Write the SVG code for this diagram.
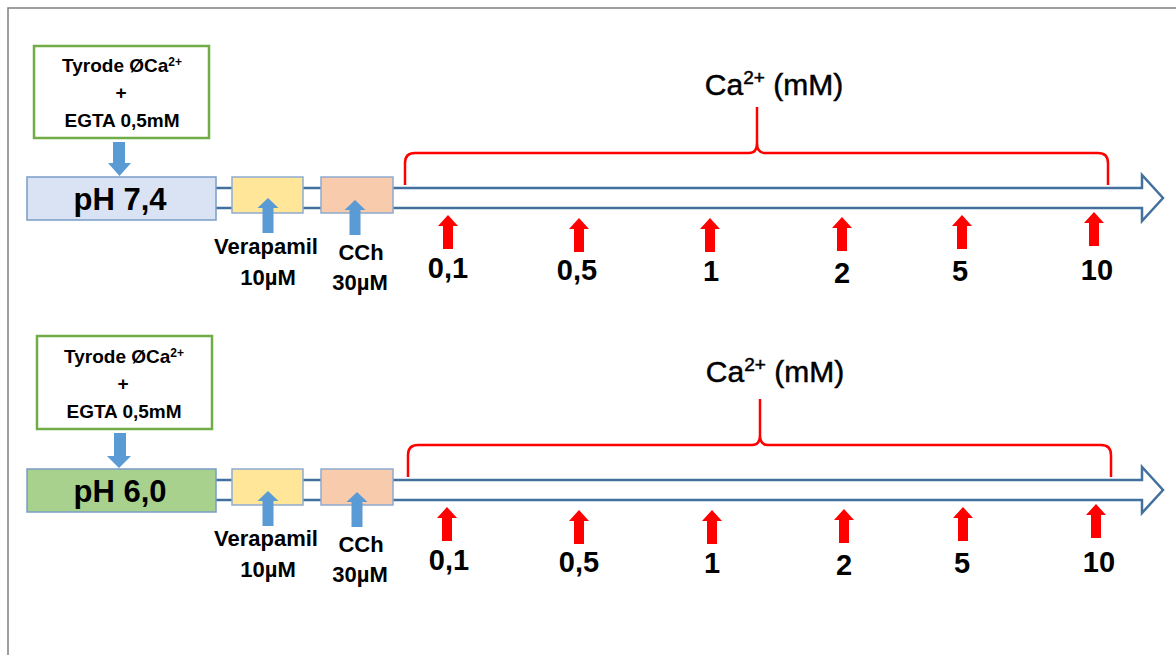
<svg xmlns="http://www.w3.org/2000/svg" width="1176" height="655" viewBox="0 0 1176 655">
  <style>
    .frame { fill: none; stroke: #7f7f7f; stroke-width: 1.5; }
    .sol { fill: #ffffff; stroke: #70ad47; stroke-width: 2.5; }
    .ph74 { fill: #dae3f3; stroke: #7a9cc8; stroke-width: 1.5; }
    .ph60 { fill: #a9d18e; stroke: #7a9cc8; stroke-width: 1.5; }
    .vera { fill: #ffe699; stroke: #8eaad0; stroke-width: 1.5; }
    .cch { fill: #f8cbad; stroke: #8eaad0; stroke-width: 1.5; }
    .line { fill: #ffffff; stroke: #41719c; stroke-width: 2.5; stroke-linejoin: miter; }
    .brace { fill: none; stroke: #ff0000; stroke-width: 2.5; stroke-linejoin: round; }
    .blue { fill: #5b9bd5; }
    .red { fill: #ff0000; }
    text { font-family: "Liberation Sans", Arial, sans-serif; fill: #000000; text-anchor: middle; }
    .sm { font-size: 19px; font-weight: bold; }
    .ph { font-size: 31px; font-weight: bold; }
    .drug { font-size: 22px; font-weight: bold; }
    .num { font-size: 29px; font-weight: bold; }
    .ca { font-size: 30px; stroke: #000000; stroke-width: 0.5; }
  </style>
  <defs>
    <!-- red dose arrow, tip at origin -->
    <path id="dose" class="red" d="M0,0 L10,11 L5,11 L5,34 L-5,34 L-5,11 L-10,11 Z"/>
    <!-- blue drug arrow, tip at origin -->
    <path id="add" class="blue" d="M0,0 L10.5,10 L5.5,10 L5.5,35 L-5.5,35 L-5.5,10 L-10.5,10 Z"/>
  </defs>

  <!-- page frame -->
  <path class="frame" d="M8,655 V8 H1176"/>

  <!-- time axes -->
  <g id="timelines">
    <path class="line" d="M214,188 H1142 V175 L1163,198 L1142,221 V208 H214 Z"/>
    <path class="line" d="M214,480 H1142 V467 L1163,490 L1142,513 V500 H214 Z"/>
  </g>

  <!-- upper protocol, pH 7.4 -->
  <g id="solution-1">
    <rect class="sol" x="34" y="46" width="175" height="92"/>
    <text class="sm" x="122" y="72">Tyrode ØCa<tspan font-size="12" dy="-6">2+</tspan></text>
    <text class="sm" x="121" y="99">+</text>
    <text class="sm" x="122" y="127">EGTA 0,5mM</text>
  </g>
  <g id="ph-74">
    <rect class="ph74" x="27" y="177" width="189" height="43"/>
    <text class="ph" x="120" y="210">pH 7,4</text>
  </g>
  <g id="verapamil-1">
    <rect class="vera" x="232" y="177" width="71" height="36"/>
    <text class="drug" x="266" y="254">Verapamil</text>
    <text class="drug" x="268" y="285">10µM</text>
  </g>
  <g id="cch-1">
    <rect class="cch" x="321" y="177" width="72" height="36"/>
    <text class="drug" x="361" y="260">CCh</text>
    <text class="drug" x="360" y="290">30µM</text>
  </g>
  <g id="calcium-1">
    <text class="ca" x="774" y="95">Ca<tspan font-size="19" dy="-11">2+</tspan><tspan dy="11"> (mM)</tspan></text>
    <g class="num">
      <text x="448" y="278">0,1</text>
      <text x="577" y="280">0,5</text>
      <text x="711" y="281">1</text>
      <text x="842" y="283">2</text>
      <text x="960" y="281">5</text>
      <text x="1097" y="280">10</text>
    </g>
  </g>

  <!-- lower protocol, pH 6.0 -->
  <g id="solution-2">
    <rect class="sol" x="37" y="336" width="175" height="93"/>
    <text class="sm" x="124" y="363">Tyrode ØCa<tspan font-size="12" dy="-6">2+</tspan></text>
    <text class="sm" x="123" y="390">+</text>
    <text class="sm" x="124" y="418">EGTA 0,5mM</text>
  </g>
  <g id="ph-60">
    <rect class="ph60" x="27" y="469" width="189" height="43"/>
    <text class="ph" x="120" y="502">pH 6,0</text>
  </g>
  <g id="verapamil-2">
    <rect class="vera" x="232" y="469" width="71" height="36"/>
    <text class="drug" x="266" y="546">Verapamil</text>
    <text class="drug" x="268" y="577">10µM</text>
  </g>
  <g id="cch-2">
    <rect class="cch" x="321" y="469" width="72" height="36"/>
    <text class="drug" x="361" y="552">CCh</text>
    <text class="drug" x="360" y="582">30µM</text>
  </g>
  <g id="calcium-2">
    <text class="ca" x="775" y="382">Ca<tspan font-size="19" dy="-11">2+</tspan><tspan dy="11"> (mM)</tspan></text>
    <g class="num">
      <text x="449" y="570">0,1</text>
      <text x="579" y="572">0,5</text>
      <text x="712" y="573">1</text>
      <text x="844" y="575">2</text>
      <text x="962" y="573">5</text>
      <text x="1099" y="572">10</text>
    </g>
  </g>

  <!-- braces, additions and dose steps -->
  <g id="connectors">
    <path class="brace" d="M405,185 V163 Q405,153 415,153 H749 Q757,153 757,143 V107 M757,143 Q757,153 765,153 H1098 Q1108,153 1108,163 V185"/>
    <path class="brace" d="M408,477 V455 Q408,445 418,445 H752 Q760,445 760,435 V399 M760,435 Q760,445 768,445 H1101 Q1111,445 1111,455 V477"/>

    <path class="blue" d="M113,142 H125 V163 H131 L119.5,176 L108,163 H113 Z"/>
    <path class="blue" d="M114,433 H126 V456 H131 L119,468 L107,456 H114 Z"/>
    <use href="#add" x="268" y="198"/>
    <use href="#add" x="355" y="200"/>
    <use href="#add" x="268" y="491"/>
    <use href="#add" x="357" y="492"/>

    <use href="#dose" x="448" y="215"/>
    <use href="#dose" x="579" y="218"/>
    <use href="#dose" x="710" y="218"/>
    <use href="#dose" x="842" y="217"/>
    <use href="#dose" x="962" y="215"/>
    <use href="#dose" x="1094" y="212"/>

    <use href="#dose" x="447" y="507"/>
    <use href="#dose" x="579" y="510"/>
    <use href="#dose" x="712" y="510"/>
    <use href="#dose" x="844" y="509"/>
    <use href="#dose" x="963" y="507"/>
    <use href="#dose" x="1096" y="504"/>
  </g>
</svg>
